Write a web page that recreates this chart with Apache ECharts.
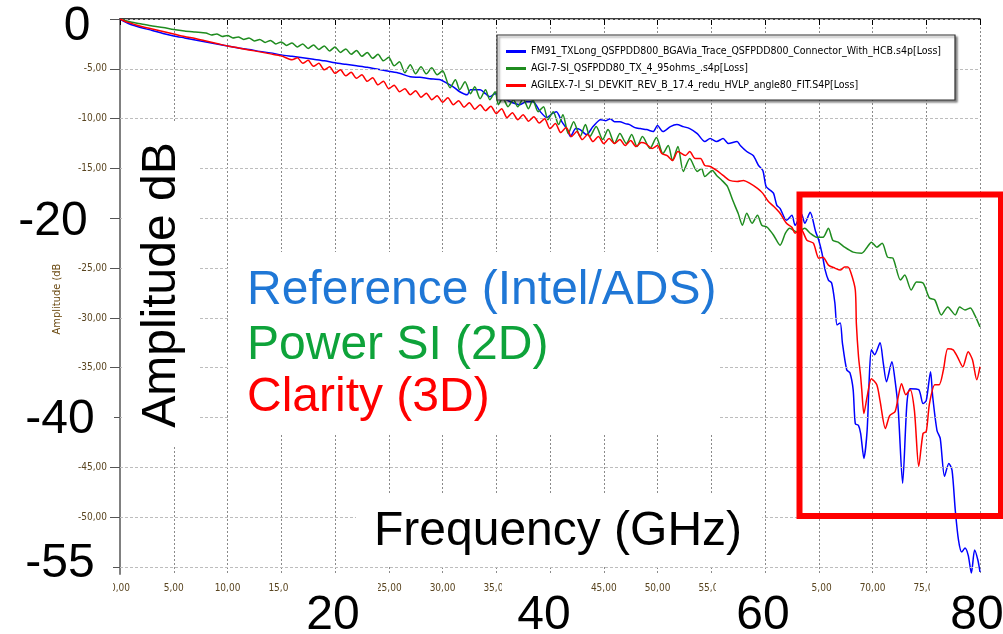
<!DOCTYPE html>
<html>
<head>
<meta charset="utf-8">
<title>Insertion loss comparison</title>
<script src="https://cdn.jsdelivr.net/npm/echarts@6/dist/echarts.min.js"></script>
<style>
  html, body { margin: 0; padding: 0; background: #fff; }
  #chart { width: 1003px; height: 634px; }
</style>
</head>
<body>
<div id="chart"></div>
<script>
// series names as shown in the tool's legend
const blueName = 'FM91_TXLong_QSFPDD800_BGAVia_Trace_QSFPDD800_Connector_With_HCB.s4p[Loss]'
const greenName = 'AGI-7-SI_QSFPDD80_TX_4_95ohms_.s4p[Loss]'
const redName = 'AGILEX-7-I_SI_DEVKIT_REV_B_17.4_redu_HVLP_angle80_FIT.S4P[Loss]'

// Reference (Intel/ADS) - blue
const blueFreq = [
  0, 0.5, 1, 1.5, 2, 3, 4, 5, 6, 7, 8, 9, 10, 11, 12, 13, 14, 15, 16, 17, 18, 19, 20,
  21, 22, 23, 24, 25, 26, 27, 27.9, 28.8, 29.8,
  30.5, 31.0, 31.6, 32.3, 32.6, 33.5, 34.0, 34.4, 34.9, 35.3,
  35.8, 36.3, 36.8, 37.2, 37.8, 38.4, 39.1, 39.7, 40.2, 40.6,
  41.1, 41.6, 41.9, 42.4, 42.8, 43.4, 44.0, 44.7, 45.2, 45.6,
  46.0, 46.5, 47.0, 47.4, 47.9, 48.4, 49.0, 49.6, 50.0, 50.5,
  51.2, 51.8, 52.4, 53.0, 53.7, 54.4, 54.9, 55.5, 56.1, 56.6,
  57.4, 57.7, 58.3, 58.9, 59.4, 59.8, 60.1, 60.5, 60.8, 61.1,
  61.4, 62.0, 62.5, 62.8, 63.4, 63.7, 64.2, 64.7, 65.0, 65.3,
  65.6, 65.9, 66.2, 66.5, 66.7, 67.0, 67.2, 67.6, 67.9, 68.2,
  68.4, 68.7, 68.9, 69.2, 69.5, 69.7, 69.9, 70.2, 70.7, 71.0,
  71.3, 71.8, 72.1, 72.4, 72.8, 73.2, 73.5, 74.3, 74.7, 75.0,
  75.4, 75.6, 76.0, 76.3, 76.7, 77.1, 77.4, 77.7, 78.0, 78.3,
  78.6, 78.9, 79.2, 79.5, 79.8, 80.0
]
const blueLoss = [
  0, -0.3, -0.55, -0.72, -0.88, -1.15, -1.45, -1.7, -1.9, -2.1, -2.3, -2.5, -2.7, -2.9, -3.05, -3.25, -3.4, -3.6, -3.75, -3.9, -4.05, -4.2, -4.4,
  -4.55, -4.7, -4.85, -5.05, -5.25, -5.45, -5.8, -5.85, -6.0, -6.1,
  -6.5, -6.8, -7.3, -7.6, -7.1, -7.1, -7.5, -7.8, -7.5, -7.6,
  -8.0, -8.3, -8.5, -8.6, -8.3, -8.3, -9.3, -9.9, -9.5, -9.3,
  -10.3, -11.1, -11.8, -11.0, -11.1, -11.6, -10.8, -10.1, -10.2, -10.0,
  -10.3, -10.3, -10.5, -10.6, -10.9, -11.0, -11.1, -11.3, -10.7, -11.3,
  -10.8, -10.6, -10.8, -11.0, -11.5, -12.3, -12.0, -12.3, -12.0, -12.5,
  -12.3, -12.7, -13.3, -13.7, -14.7, -15.2, -16.8, -17.2, -17.5, -18.7,
  -19.0, -20.2, -19.7, -20.7, -19.6, -20.5, -19.4, -21.3, -22.2, -23.5,
  -25.2, -26.2, -26.5, -28.5, -30.7, -30.5, -32.5, -35.2, -35.5, -37.2,
  -40.6, -40.8, -41.6, -44.1, -41.3, -36.0, -33.2, -33.7, -32.5, -34.5,
  -36.4, -34.4, -36.3, -39.3, -46.6, -38.6, -37.1, -37.2, -38.6, -38.3,
  -35.4, -37.9, -41.3, -42.1, -45.9, -44.6, -45.3, -49.3, -52.3, -53.5,
  -53.1, -53.8, -55.6, -53.3, -54.3, -55.5
]

// Power SI (2D) - green
const greenFreq = [
  0, 1, 2, 3, 4, 5, 6, 7,
  8, 8.5, 9, 9.5, 10, 10.5, 11, 11.5, 12, 12.5, 13, 13.5, 14, 14.5,
  15, 15.5, 16, 16.5, 17, 17.5, 18, 18.5, 19, 19.5, 20, 20.5, 21, 21.5,
  22, 22.5, 23, 23.5, 24, 24.5, 25, 25.5, 26, 26.5, 27, 27.5, 28, 28.5,
  29, 29.5, 30, 30.7, 31.2, 31.6, 32.1, 32.6, 33.0, 33.5, 34.0, 34.4,
  34.9, 35.2, 35.6, 36.1, 36.6, 37.0, 37.5, 38.0, 38.4, 38.9, 39.4, 39.8,
  40.3, 40.8, 41.2, 41.7, 42.2, 42.8, 43.3, 43.7, 44.3, 44.9, 45.4, 46.0,
  46.5, 47.1, 47.6, 48.1, 48.6, 49.3, 49.9, 50.5, 51.0, 51.4, 51.9, 52.4,
  53.0, 53.7, 54.1, 54.4, 55.1, 55.5, 56.0, 56.5, 57.0, 57.5, 57.9, 58.3,
  58.8, 59.3, 59.7, 60.2, 60.8, 61.4, 61.9, 62.3, 63.0, 63.7, 64.2, 64.8,
  65.4, 65.9, 66.3, 66.8, 67.4, 68.2, 69.0, 69.5, 69.9, 70.4, 70.9, 71.4,
  71.9, 72.6, 73.0, 73.6, 74.1, 74.7, 75.3, 75.8, 76.4, 77.0, 77.7, 78.1,
  78.6, 79.1, 79.5, 80.0
]
const greenLoss = [
  0, -0.3, -0.5, -0.7, -0.85, -1.05, -1.2, -1.3,
  -1.4, -1.6, -1.5, -1.75, -1.65, -1.9, -1.8, -2.05, -1.9, -2.2, -2.05, -2.35, -2.15, -2.5,
  -2.3, -2.65, -2.4, -2.8, -2.5, -2.95, -2.6, -3.05, -2.7, -3.2, -2.8, -3.35, -3.0, -3.55,
  -3.15, -3.75, -3.35, -3.95, -3.55, -4.2, -3.85, -4.7, -4.3, -5.4, -4.6, -5.5, -4.8, -5.5,
  -4.9, -5.6, -5.2, -6.9, -6.1, -7.1, -6.3, -7.5, -6.8, -8.0, -7.1, -8.1,
  -7.3, -8.6, -7.9, -8.8, -8.1, -8.8, -8.0, -9.0, -8.1, -9.3, -8.8, -10.1,
  -9.3, -10.6, -9.6, -11.5, -10.3, -11.8, -10.6, -11.8, -10.8, -12.1, -11.1, -12.5,
  -11.5, -12.5, -11.6, -12.8, -11.8, -13.0, -11.9, -13.5, -12.7, -14.2, -12.8, -15.3,
  -14.0, -15.3, -15.0, -15.8, -15.2, -15.7, -16.2, -16.8, -18.2, -19.5, -20.7, -19.5,
  -20.5, -19.7, -20.7, -20.9, -21.7, -22.7, -21.5, -21.0, -21.4, -21.0, -21.5, -21.9,
  -21.9, -21.0, -22.2, -22.4, -22.9, -23.4, -23.5, -22.9, -22.4, -22.9, -22.5, -23.9,
  -24.0, -26.2, -25.7, -27.2, -26.4, -26.5, -28.0, -28.2, -29.7, -28.9, -29.7, -28.9,
  -29.2, -29.0, -29.7, -30.9
]

// Clarity (3D) - red
const redFreq = [
  0, 0.5, 1, 1.5, 2, 3, 4, 5, 6, 7, 8, 9, 10, 11, 12, 13, 14, 15,
  16, 16.5, 17, 17.5, 18, 18.5, 19, 19.5, 20, 20.5, 21, 21.5, 22, 22.5,
  23, 23.5, 24, 24.5, 25, 25.5, 26, 26.5, 27, 27.5, 28, 28.5, 29, 29.5,
  30, 30.5, 31, 31.5, 32, 32.5, 33, 33.5, 34, 34.5, 35, 35.5, 36, 36.5,
  37, 37.5, 38, 38.5, 39, 39.5, 40, 40.5, 41, 41.5, 42, 42.5, 43, 43.5,
  44, 44.5, 45, 45.5, 46, 46.5, 47, 47.5, 48, 48.5,
  48.9, 49.5, 50.0, 50.4, 50.9, 51.4, 51.9, 52.6, 53.0, 53.5, 54.0, 54.4,
  54.9, 55.5, 56.1, 56.7, 57.4, 58.0, 58.6, 59.3, 59.8, 60.3, 60.8, 61.4,
  62.0, 62.5, 62.8, 63.3, 63.9, 64.5, 65.0, 65.4, 65.9, 66.5, 67.0, 67.4,
  67.7, 68.0, 68.4, 68.5, 68.7, 68.9, 69.0, 69.2, 69.5, 69.9, 70.4, 70.7,
  71.2, 71.6, 72.1, 72.4, 72.7, 73.1, 73.5, 73.9, 74.3, 74.7, 75.0, 75.3,
  75.8, 76.2, 76.6, 77.0, 77.5, 77.9, 78.4, 78.9, 79.3, 79.7, 80.0
]
const redLoss = [
  0, -0.25, -0.42, -0.6, -0.75, -1.0, -1.25, -1.5, -1.75, -1.95, -2.2, -2.45, -2.7, -2.9, -3.1, -3.3, -3.5, -3.7,
  -4.1, -3.9, -4.45, -4.15, -4.75, -4.45, -5.1, -4.8, -5.45, -5.1, -5.7, -5.35, -5.95, -5.6,
  -6.25, -5.9, -6.6, -6.25, -7.0, -6.65, -7.3, -7.0, -7.6, -7.2, -7.85, -7.45, -8.1, -7.7,
  -8.35, -7.9, -8.6, -8.2, -8.85, -8.4, -9.05, -8.6, -9.2, -8.75, -9.5, -9.0, -9.9, -9.4,
  -10.1, -9.6, -10.25, -9.8, -10.45, -10.0, -11.0, -10.5, -11.4, -10.9, -11.8, -11.3, -12.1, -11.6,
  -12.3, -11.8, -12.5, -12.0, -12.5, -12.1, -12.7, -12.2, -12.8, -12.4,
  -12.5, -13.0, -12.7, -13.5, -13.7, -14.2, -13.3, -13.7, -13.3, -14.0, -14.0, -14.7,
  -14.8, -15.2, -15.7, -16.2, -16.3, -16.2, -16.5, -17.0, -17.5, -18.3, -18.8, -19.5,
  -20.5, -20.9, -21.5, -21.0, -22.2, -22.5, -24.0, -23.9, -24.7, -25.0, -25.2, -24.9,
  -24.9, -25.5, -27.2, -30.6, -33.9, -35.9, -37.2, -39.6, -37.9, -36.1, -36.7, -38.3,
  -41.1, -39.8, -39.4, -37.9, -36.6, -37.7, -37.2, -39.3, -44.9, -41.6, -41.4, -38.6,
  -36.7, -36.7, -35.2, -33.1, -33.2, -33.9, -34.9, -33.4, -34.2, -36.2, -34.9
]

// axis ticks
const yTicks = [0, -5, -10, -15, -20, -25, -30, -35, -40, -45, -50, -55]
const bigYLabels = ['0', '-20', '-40', '-55']
const bigXLabels = ['20', '40', '60', '80']
const seriesCaptions = ['Reference (Intel/ADS)', 'Power SI (2D)', 'Clarity (3D)']

const pairs = (xs, ys) => xs.map((x, i) => [x, ys[i]])
const comma = v => v.toFixed(2).replace('.', ',')

const BIG = "'Liberation Sans', Arial, sans-serif"
const NARROW = "'Liberation Sans Narrow', 'Arial Narrow', 'DejaVu Sans Condensed', sans-serif"

const chart = echarts.init(document.getElementById('chart'))

// white cover boxes pasted over the plot (slide annotations)
const covers = [
  [122, 122, 76, 324],   // behind "Amplitude dB"
  [229, 252, 491, 181],  // behind the three captions
  [356, 493, 406, 74],   // behind "Frequency (GHz)"
  [50, 0, 58, 45],       // "0"
  [12, 195, 96, 48],     // "-20"
  [12, 395, 102, 48],    // "-40"
  [12, 540, 101, 60],    // "-55"
  [289, 582, 89, 52],    // "20"
  [502, 582, 86, 52],    // "40"
  [716, 582, 96, 52],    // "60"
  [930, 582, 73, 52]     // "80"
]

const bigText = (text, x, y, color, align, rotation) => ({
  type: 'text',
  x, y, rotation: rotation || 0,
  z: 120,
  silent: true,
  style: {
    text, fill: color || '#000',
    font: `48px ${BIG}`,
    align: align || 'center',
    verticalAlign: 'middle'
  }
})

const graphics = covers.map(([x, y, w, h]) => ({
  type: 'rect', z: 110, silent: true,
  shape: { x, y, width: w, height: h },
  style: { fill: '#fff' }
}))

graphics.push(
  // legend frame
  {
    type: 'rect', z: 100, silent: true,
    shape: { x: 497, y: 35, width: 458, height: 65 },
    style: { fill: '#fff', stroke: '#333', lineWidth: 1.2, shadowBlur: 2, shadowOffsetX: 2, shadowOffsetY: 2, shadowColor: 'rgba(0,0,0,0.45)' }
  },
  // small axis title
  {
    type: 'text', x: 57, y: 299, rotation: Math.PI / 2, z: 5, silent: true,
    style: { text: 'Amplitude (dB', fill: '#6b4a12', font: `11px ${NARROW}`, align: 'center', verticalAlign: 'middle' }
  },
  bigText(bigYLabels[0], 77, 27),
  bigText(bigYLabels[1], 53, 222),
  bigText(bigYLabels[2], 60, 420),
  bigText(bigYLabels[3], 60, 564),
  bigText(bigXLabels[0], 333, 616),
  bigText(bigXLabels[1], 544, 616),
  bigText(bigXLabels[2], 763, 616),
  bigText(bigXLabels[3], 977, 616),
  bigText('Amplitude dB', 162, 285, '#000', 'center', Math.PI / 2),
  bigText(seriesCaptions[0], 247, 291, '#1f77d6', 'left'),
  bigText(seriesCaptions[1], 247, 346, '#0ea33a', 'left'),
  bigText(seriesCaptions[2], 247, 398, '#ff0000', 'left'),
  bigText('Frequency (GHz)', 374, 532, '#000', 'left'),
  // red highlight box
  {
    type: 'rect', z: 130, silent: true,
    shape: { x: 799.5, y: 194.5, width: 201.5, height: 321.5 },
    style: { fill: 'none', stroke: '#ff0000', lineWidth: 6 }
  }
)

const lineSeries = (name, data, color, z, extra) => Object.assign({
  name,
  type: 'line',
  data,
  z,
  showSymbol: false,
  smooth: 0.25,
  lineStyle: { width: 1.5, color },
  itemStyle: { color }
}, extra || {})

chart.setOption({
  animation: false,
  backgroundColor: '#fff',
  grid: { left: 120, right: 23, top: 19, bottom: 60 },
  legend: {
    orient: 'vertical',
    left: 501,
    top: 40,
    z: 105,
    itemWidth: 20,
    itemHeight: 3,
    itemGap: 4,
    icon: 'rect',
    textStyle: { fontFamily: NARROW, fontSize: 10.5, lineHeight: 13, color: '#000' },
    data: [blueName, greenName, redName]
  },
  xAxis: {
    type: 'value',
    min: 0,
    max: 80,
    interval: 5,
    axisLine: { lineStyle: { color: '#000', width: 1.5 } },
    axisTick: { length: 6, lineStyle: { color: '#000' } },
    axisLabel: { formatter: comma, color: '#5a4520', fontFamily: NARROW, fontSize: 10, margin: 9 },
    splitLine: { show: true, lineStyle: { color: '#8a8a8a', type: [2, 2], width: 1 } }
  },
  yAxis: {
    type: 'value',
    min: -55.7,
    max: 0,
    axisLine: { show: true, lineStyle: { color: '#808080', width: 2 } },
    axisTick: { show: true, length: 10, customValues: yTicks, lineStyle: { color: '#555' } },
    axisLabel: { customValues: yTicks, formatter: comma, color: '#5a4520', fontFamily: NARROW, fontSize: 10, margin: 13 },
    splitLine: { show: false }
  },
  graphic: graphics,
  series: [
    lineSeries(blueName, pairs(blueFreq, blueLoss), '#0000ff', 3, {
      markLine: {
        silent: true,
        symbol: 'none',
        label: { show: false },
        lineStyle: { color: '#bdbdbd', type: [3, 2], width: 1 },
        data: yTicks.map(v => ({ yAxis: v }))
      }
    }),
    lineSeries(greenName, pairs(greenFreq, greenLoss), '#1f8c1f', 4),
    lineSeries(redName, pairs(redFreq, redLoss), '#ff0000', 5)
  ]
})

window.addEventListener('resize', () => chart.resize())
</script>
</body>
</html>
